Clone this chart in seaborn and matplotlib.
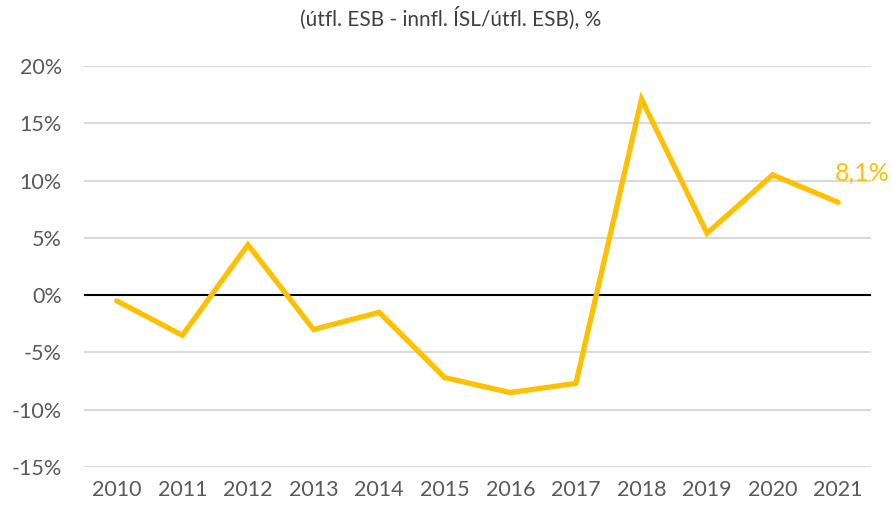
import matplotlib
matplotlib.use("Agg")
import matplotlib.pyplot as plt
import seaborn as sns
import pandas as pd

years = [2010, 2011, 2012, 2013, 2014, 2015, 2016, 2017, 2018, 2019, 2020, 2021]
values = [-0.5, -3.5, 4.4, -3.0, -1.5, -7.2, -8.5, -7.7, 17.1, 5.4, 10.5, 8.1]
title = "(útfl. ESB - innfl. ÍSL/útfl. ESB), %"
y_ticks = [-15, -10, -5, 0, 5, 10, 15, 20]
last_label = "8,1%"

sns.set_theme(style="white")
plt.rcParams['font.family'] = ['Lato', 'DejaVu Sans']

df = pd.DataFrame({"year": years, "value": values})

fig = plt.figure(figsize=(8.92, 5.13), dpi=100)
ax = fig.add_axes([84/892, 1-467/513, (871-84)/892, (467-66)/513])

for t in y_ticks:
    if t != 0:
        ax.axhline(t, color="#d9d9d9", lw=1.5, zorder=0)
ax.axhline(0, color="black", lw=1.5, zorder=1)

sns.lineplot(data=df, x="year", y="value", color="#FFC000", lw=3.8, ax=ax,
             zorder=3, solid_capstyle="round", solid_joinstyle="miter")

ax.set_xlim(2009.5, 2021.5)
ax.set_ylim(-15, 20)
ax.set_yticks(y_ticks)
ax.set_yticklabels([f"{t}%" for t in y_ticks])
ax.set_xticks(years)
ax.set_xticklabels([str(y) for y in years])
ax.set_xlabel("")
ax.set_ylabel("")
for s in ax.spines.values():
    s.set_visible(False)
ax.tick_params(axis="both", length=0, labelsize=15.5, labelcolor="#595959")
ax.tick_params(axis="y", pad=16)
ax.tick_params(axis="x", pad=9)

ax.annotate(last_label, xy=(years[-1], values[-1]), xytext=(17, 21),
            textcoords="offset points", ha="center", va="center",
            color="#FFC000", fontsize=18)

fig.text(451/892, 1-18/513, title, ha="center", va="center",
         fontsize=15, color="#404040")

fig.savefig("out.png", dpi=100)
